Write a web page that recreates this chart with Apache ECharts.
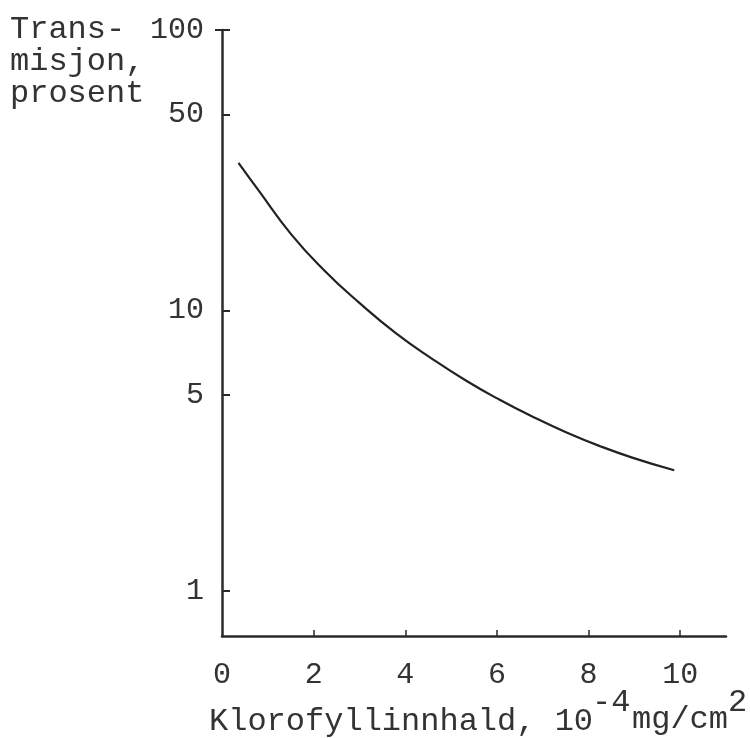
<!DOCTYPE html>
<html>
<head>
<meta charset="utf-8">
<script src="https://cdn.jsdelivr.net/npm/echarts@6/dist/echarts.min.js"></script>
<style>
  html, body { margin: 0; padding: 0; background: #fff; }
  #chart { width: 750px; height: 738px; }
</style>
</head>
<body>
<div id="chart"></div>
<script>
// values (chlorophyll content vs transmission %)
const chlorophyll = [0.36, 0.79, 1.52, 2.25, 2.98, 3.8, 4.61, 5.34, 6.06, 6.79, 7.52, 8.25, 8.97, 9.87];
const transmission = [33.6, 26.9, 18.6, 13.8, 10.7, 8.28, 6.68, 5.6, 4.8, 4.17, 3.67, 3.28, 2.98, 2.69];

const yTicks = [1, 5, 10, 50, 100];
const xLabels = [0, 2, 4, 6, 8, 10];
const xTicks = [2, 4, 6, 8, 10];

const font = 'Liberation Mono';
const ink = '#333';

const chart = echarts.init(document.getElementById('chart'));

const option = {
  backgroundColor: '#fff',
  animation: false,
  grid: { left: 222, top: 30, right: 24, bottom: 102, outerBoundsMode: 'none' },
  xAxis: {
    type: 'value',
    min: 0,
    max: 11,
    splitLine: { show: false },
    axisLine: { lineStyle: { color: '#2a2a2a', width: 2.5 } },
    axisTick: {
      inside: true, length: 6, customValues: xTicks,
      lineStyle: { color: '#2a2a2a', width: 1.5 }
    },
    axisLabel: {
      customValues: xLabels, margin: 24,
      fontFamily: font, fontSize: 30, color: ink
    }
  },
  yAxis: [
    {
      type: 'log',
      logBase: 10,
      min: 0.69,
      max: 100,
      splitLine: { show: false },
      axisLine: { lineStyle: { color: '#2a2a2a', width: 2.5 } },
      axisTick: {
        inside: true, length: 8, customValues: yTicks,
        lineStyle: { color: '#2a2a2a', width: 2 }
      },
      axisLabel: {
        customValues: yTicks, margin: 18,
        fontFamily: font, fontSize: 30, color: ink
      }
    },
    {
      // small cap on the outside at 100
      type: 'log',
      logBase: 10,
      min: 0.69,
      max: 100,
      position: 'left',
      splitLine: { show: false },
      axisLine: { show: false },
      axisTick: {
        inside: false, length: 7, customValues: [100],
        lineStyle: { color: '#2a2a2a', width: 2 }
      },
      axisLabel: { show: false }
    }
  ],
  graphic: [
    {
      type: 'text', left: 10, top: 14,
      style: {
        text: 'Trans-\nmisjon,\nprosent',
        font: '32px "' + font + '"', lineHeight: 32, fill: ink
      }
    },
    {
      type: 'text', x: 209, y: 722,
      style: {
        text: 'Klorofyllinnhald, 10', font: '32px "' + font + '"',
        fill: ink, verticalAlign: 'middle'
      }
    },
    {
      type: 'text', x: 592, y: 703,
      style: { text: '-4', font: '32px "' + font + '"', fill: ink, verticalAlign: 'middle' }
    },
    {
      type: 'text', x: 632, y: 720,
      style: { text: 'mg/cm', font: '32px "' + font + '"', fill: ink, verticalAlign: 'middle' }
    },
    {
      type: 'text', x: 728, y: 703,
      style: { text: '2', font: '32px "' + font + '"', fill: ink, verticalAlign: 'middle' }
    }
  ],
  series: [
    {
      type: 'line',
      smooth: 0.5,
      showSymbol: false,
      lineStyle: { color: '#222', width: 2.2 },
      data: chlorophyll.map((c, i) => [c, transmission[i]])
    }
  ]
};

chart.setOption(option);
</script>
</body>
</html>
